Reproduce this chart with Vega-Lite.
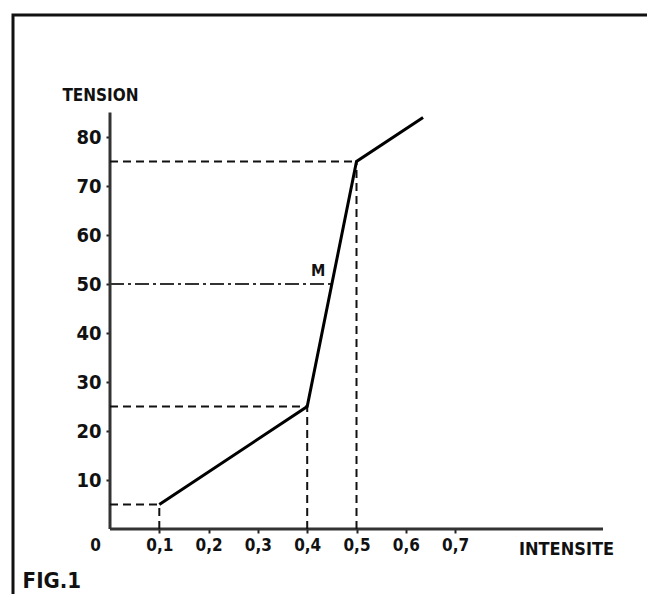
{
  "$schema": "https://vega.github.io/schema/vega-lite/v6.json",
  "autosize": "none",
  "width": 700,
  "height": 650,
  "padding": {"left": 13, "top": 15, "right": 0, "bottom": 0},
  "background": "white",
  "config": {
    "view": {"stroke": "#111", "strokeWidth": 3},
    "axis": {
      "domain": false,
      "grid": false,
      "labelFont": "DejaVu Sans Condensed, Liberation Sans Narrow, sans-serif",
      "labelFontWeight": "bold",
      "labelColor": "#111",
      "tickColor": "#222",
      "tickWidth": 2,
      "tickSize": 4,
      "titleFont": "DejaVu Sans Condensed, Liberation Sans Narrow, sans-serif",
      "titleFontWeight": "bold",
      "titleColor": "#111"
    }
  },
  "datasets": {
    "axes": [
      {"x": 0, "y": 0, "x2": 1.0, "y2": 0},
      {"x": 0, "y": 0, "x2": 0, "y2": 85}
    ],
    "dashed": [
      {"x": 0, "y": 5, "x2": 0.1, "y2": 5},
      {"x": 0.1, "y": 0, "x2": 0.1, "y2": 5},
      {"x": 0, "y": 25, "x2": 0.4, "y2": 25},
      {"x": 0.4, "y": 0, "x2": 0.4, "y2": 25},
      {"x": 0, "y": 75, "x2": 0.5, "y2": 75},
      {"x": 0.5, "y": 0, "x2": 0.5, "y2": 75}
    ],
    "dashdot": [
      {"x": 0, "y": 50, "x2": 0.45, "y2": 50}
    ],
    "curve": [
      {"x": 0.1, "y": 5},
      {"x": 0.4, "y": 25},
      {"x": 0.5, "y": 75},
      {"x": 0.635, "y": 84}
    ],
    "labels": [
      {"x": 0.422, "y": 52.6, "label": "M", "kind": "m"},
      {"x": -0.118, "y": -10.6, "label": "FIG.1", "kind": "fig"}
    ]
  },
  "encoding": {
    "x": {
      "field": "x",
      "type": "quantitative",
      "scale": {"domain": [-0.19675, 1.2231], "nice": false, "zero": false},
      "axis": {
        "orient": "bottom",
        "offset": -136,
        "values": [0, 0.1, 0.2, 0.3, 0.4, 0.5, 0.6, 0.7],
        "labelExpr": "datum.value == 0 ? '0' : replace(format(datum.value, '.1f'), '.', ',')",
        "labelFontSize": 17,
        "labelPadding": 4,
        "labelBaseline": "top",
        "labelOffset": {"condition": {"test": "datum.value == 0", "value": -15}, "value": 0},
        "tickOpacity": {"condition": {"test": "datum.value == 0", "value": 0}, "value": 1},
        "title": "INTENSITE",
        "titleFontSize": 18,
        "titleX": 553,
        "titleY": 20,
        "titleAlign": "center",
        "titleBaseline": "middle"
      }
    },
    "y": {
      "field": "y",
      "type": "quantitative",
      "scale": {"domain": [-27.755, 104.898], "nice": false, "zero": false},
      "axis": {
        "orient": "left",
        "offset": -97,
        "values": [10, 20, 30, 40, 50, 60, 70, 80],
        "labelFontSize": 20,
        "labelPadding": 5,
        "title": "TENSION",
        "titleFontSize": 17,
        "titleAngle": 0,
        "titleX": -10,
        "titleY": 80,
        "titleAlign": "center",
        "titleBaseline": "middle"
      }
    }
  },
  "layer": [
    {
      "data": {"name": "axes"},
      "mark": {"type": "rule", "color": "#333", "strokeWidth": 3},
      "encoding": {"x2": {"field": "x2"}, "y2": {"field": "y2"}}
    },
    {
      "data": {"name": "dashed"},
      "mark": {"type": "rule", "color": "#111", "strokeWidth": 2, "strokeDash": [8, 5]},
      "encoding": {"x2": {"field": "x2"}, "y2": {"field": "y2"}}
    },
    {
      "data": {"name": "dashdot"},
      "mark": {"type": "rule", "color": "#333", "strokeWidth": 2, "strokeDash": [14, 4, 3, 4]},
      "encoding": {"x2": {"field": "x2"}, "y2": {"field": "y2"}}
    },
    {
      "data": {"name": "curve"},
      "mark": {"type": "line", "color": "#000", "strokeWidth": 3},
      "encoding": {}
    },
    {
      "data": {"name": "labels"},
      "mark": {"type": "text", "font": "DejaVu Sans Condensed, Liberation Sans Narrow, sans-serif", "fontWeight": "bold", "color": "#111", "align": "center", "baseline": "middle"},
      "encoding": {
        "text": {"field": "label"},
        "size": {"condition": {"test": "datum.kind == 'fig'", "value": 22}, "value": 16}
      }
    }
  ]
}
